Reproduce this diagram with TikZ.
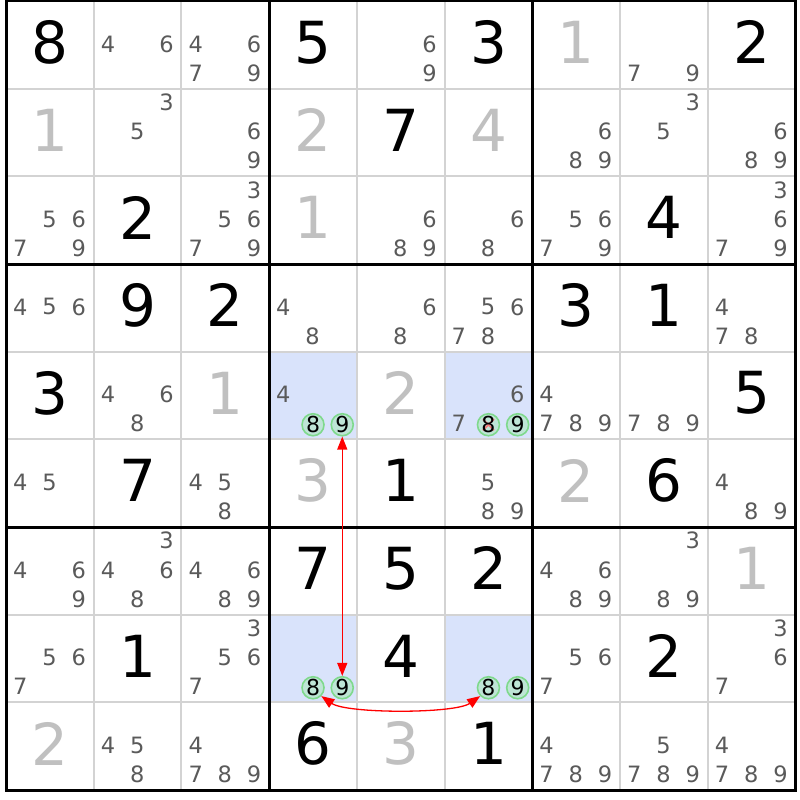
\documentclass[tikz,border=0pt]{standalone}
\usepackage{fontspec}
\setmainfont{DejaVu Sans}
\usetikzlibrary{arrows.meta}
\definecolor{candgray}{HTML}{5A5A5A}
\definecolor{solvedgray}{HTML}{C0C0C0}
\definecolor{thingrid}{HTML}{D3D3D3}
\definecolor{hl}{HTML}{D9E3FB}
\definecolor{circfill}{HTML}{BEE5D6}
\definecolor{circline}{HTML}{7FD98C}
\definecolor{xred}{HTML}{F27C7C}
\def\sx{87.72}\def\sy{87.67}\def\ox{6}\def\oy{1}
\newcommand\cands[3]{\foreach \d in {#3}{%
  \pgfmathtruncatemacro\ci{mod(\d-1,3)}%
  \pgfmathtruncatemacro\ri{div(\d-1,3)}%
  \node[cand] (k#1#2\d) at ({\ox+(#2+(2*\ci+1)/6)*\sx-0.4},{\oy+(#1+(2*\ri+1)/6)*\sy-1}) {\d};}}
\newcommand\gv[3]{\node[given] (g#1#2) at ({\ox+(#2+0.5)*\sx},{\oy+(#1+0.5)*\sy-2.5}) {#3};}
\newcommand\sv[3]{\node[solved] (g#1#2) at ({\ox+(#2+0.5)*\sx},{\oy+(#1+0.5)*\sy-2.5}) {#3};}
\newcommand\hlcell[2]{\fill[hl] ({\ox+#2*\sx},{\oy+#1*\sy}) rectangle ({\ox+(#2+1)*\sx},{\oy+(#1+1)*\sy});}
\begin{document}
\begin{tikzpicture}[x=1pt,y=-1pt,
  given/.style={inner sep=0pt, font=\fontsize{58}{58}\selectfont, text=black},
  solved/.style={given, text=solvedgray},
  cand/.style={inner sep=0pt, font=\fontsize{22.5}{22.5}\selectfont, text=candgray},
  circ/.style={circle, minimum size=22pt, inner sep=0pt, draw=circline, fill=circfill, line width=1.6pt, font=\fontsize{22}{22}\selectfont, text=black},
  circtext/.style={inner sep=0pt, font=\fontsize{22}{22}\selectfont, text=black},
  link/.style={draw=red, line width=1.3pt, >={Triangle[length=13pt,width=10pt]}, <->},
]
\fill[white] (0,0) rectangle (800,800);
\useasboundingbox (0,0) rectangle (800,800);
% highlighted cells
\hlcell{4}{3}\hlcell{4}{5}\hlcell{7}{3}\hlcell{7}{5}
% grid
\foreach \i in {1,2,4,5,7,8}{
  \draw[thingrid, line width=2pt] ({\ox+\i*\sx},{\oy}) -- ({\ox+\i*\sx},{\oy+9*\sy});
  \draw[thingrid, line width=2pt] ({\ox},{\oy+\i*\sy}) -- ({\ox+9*\sx},{\oy+\i*\sy});
}
\foreach \i in {3,6}{
  \draw[black, line width=3pt] ({\ox+\i*\sx},{\oy}) -- ({\ox+\i*\sx},{\oy+9*\sy});
  \draw[black, line width=3pt] ({\ox},{\oy+\i*\sy}) -- ({\ox+9*\sx},{\oy+\i*\sy});
}
\draw[black, line width=3pt] ({\ox},{\oy}) rectangle ({\ox+9*\sx},{\oy+9*\sy});
% givens
\gv{0}{0}{8}\gv{0}{3}{5}\gv{0}{5}{3}\gv{0}{8}{2}
\gv{1}{4}{7}
\gv{2}{1}{2}\gv{2}{7}{4}
\gv{3}{1}{9}\gv{3}{2}{2}\gv{3}{6}{3}\gv{3}{7}{1}
\gv{4}{0}{3}\gv{4}{8}{5}
\gv{5}{1}{7}\gv{5}{4}{1}\gv{5}{7}{6}
\gv{6}{3}{7}\gv{6}{4}{5}\gv{6}{5}{2}
\gv{7}{1}{1}\gv{7}{4}{4}\gv{7}{7}{2}
\gv{8}{3}{6}\gv{8}{5}{1}
% solved
\sv{0}{6}{1}\sv{1}{0}{1}\sv{1}{3}{2}\sv{1}{5}{4}\sv{2}{3}{1}
\sv{4}{2}{1}\sv{4}{4}{2}\sv{5}{3}{3}\sv{5}{6}{2}\sv{6}{8}{1}
\sv{8}{0}{2}\sv{8}{4}{3}
% candidates
\cands{0}{1}{4,6}\cands{0}{2}{4,6,7,9}\cands{0}{4}{6,9}\cands{0}{7}{7,9}
\cands{1}{1}{3,5}\cands{1}{2}{6,9}\cands{1}{6}{6,8,9}\cands{1}{7}{3,5}\cands{1}{8}{6,8,9}
\cands{2}{0}{5,6,7,9}\cands{2}{2}{3,5,6,7,9}\cands{2}{4}{6,8,9}\cands{2}{5}{6,8}\cands{2}{6}{5,6,7,9}\cands{2}{8}{3,6,7,9}
\cands{3}{0}{4,5,6}\cands{3}{3}{4,8}\cands{3}{4}{6,8}\cands{3}{5}{5,6,7,8}\cands{3}{8}{4,7,8}
\cands{4}{1}{4,6,8}\cands{4}{3}{4}\cands{4}{5}{6,7}\cands{4}{6}{4,7,8,9}\cands{4}{7}{7,8,9}
\cands{5}{0}{4,5}\cands{5}{2}{4,5,8}\cands{5}{5}{5,8,9}\cands{5}{8}{4,8,9}
\cands{6}{0}{4,6,9}\cands{6}{1}{3,4,6,8}\cands{6}{2}{4,6,8,9}\cands{6}{6}{4,6,8,9}\cands{6}{7}{3,8,9}
\cands{7}{0}{5,6,7}\cands{7}{2}{3,5,6,7}\cands{7}{6}{5,6,7}\cands{7}{8}{3,6,7}
\cands{8}{1}{4,5,8}\cands{8}{2}{4,7,8,9}\cands{8}{6}{4,7,8,9}\cands{8}{7}{5,7,8,9}\cands{8}{8}{4,7,8,9}
% circled candidates
\node[circ] (P8) at ({\ox+(3+3/6)*\sx},{\oy+(4+5/6)*\sy}) {8};
\node[circ] (P9) at ({\ox+(3+5/6)*\sx},{\oy+(4+5/6)*\sy}) {9};
\node[circ] (Q8) at ({\ox+(5+3/6)*\sx},{\oy+(4+5/6)*\sy}) {};
\draw[xred, line width=1.8pt, shorten <=4pt, shorten >=4pt] (Q8.135) -- (Q8.-45);
\draw[xred, line width=1.8pt, shorten <=4pt, shorten >=4pt] (Q8.45) -- (Q8.-135);
\node[circtext] (Q8t) at (Q8) {8};
\node[circ] (Q9) at ({\ox+(5+5/6)*\sx},{\oy+(4+5/6)*\sy}) {9};
\node[circ] (R8) at ({\ox+(3+3/6)*\sx},{\oy+(7+5/6)*\sy}) {8};
\node[circ] (R9) at ({\ox+(3+5/6)*\sx},{\oy+(7+5/6)*\sy}) {9};
\node[circ] (S8) at ({\ox+(5+3/6)*\sx},{\oy+(7+5/6)*\sy}) {8};
\node[circ] (S9) at ({\ox+(5+5/6)*\sx},{\oy+(7+5/6)*\sy}) {9};
% links
\draw[link] (P9) -- (R9);
\draw[link] (R8.-45) to[out=-35, in=-145, looseness=0.5] (S8.-135);
\end{tikzpicture}
\end{document}
